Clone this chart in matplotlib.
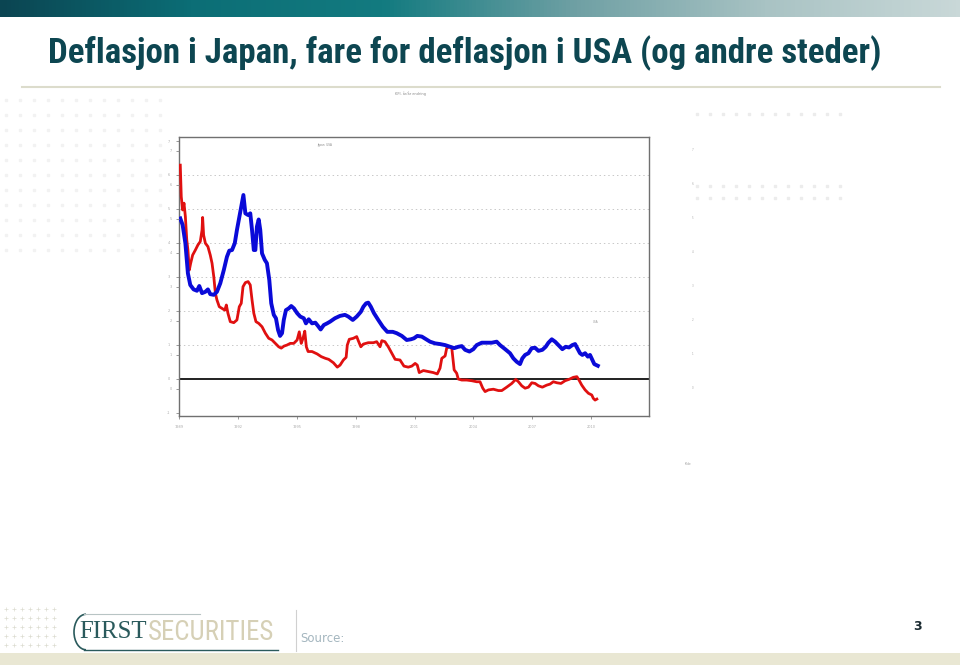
import numpy as np
import matplotlib
matplotlib.use("Agg")
import matplotlib.pyplot as plt
from matplotlib.colors import LinearSegmentedColormap
from matplotlib.patches import Rectangle, Arc
from matplotlib.lines import Line2D

TITLE = "Deflasjon i Japan, fare for deflasjon i USA (og andre steder)"
START_YEAR = 1989

# years since START_YEAR, and values (pct)
blue_t = [0.05, 0.17, 0.31, 0.44, 0.56, 0.73, 0.90, 1.02, 1.16, 1.33, 1.46, 1.58, 1.76, 1.92,
          2.09, 2.27, 2.43, 2.55, 2.69, 2.83, 2.94, 3.08, 3.16, 3.27, 3.37, 3.51, 3.62, 3.71,
          3.80, 3.88, 3.96, 4.05, 4.13, 4.22, 4.36, 4.47, 4.59, 4.69, 4.82, 4.93, 5.04, 5.14,
          5.24, 5.33, 5.44, 5.58, 5.71, 5.85, 6.01, 6.17, 6.35, 6.46, 6.60, 6.77, 6.94, 7.08,
          7.21, 7.37, 7.54, 7.69, 7.94, 8.20, 8.45, 8.62, 8.85, 9.05, 9.26, 9.39, 9.53, 9.64,
          9.77, 9.93, 10.15, 10.38, 10.61, 10.89, 11.09, 11.35, 11.60, 11.81, 11.97, 12.14,
          12.37, 12.59, 12.79, 13.05, 13.30, 13.56, 13.81, 14.02, 14.23, 14.41, 14.58, 14.80,
          15.00, 15.17, 15.43, 15.60, 15.94, 16.19, 16.36, 16.62, 16.87, 17.04, 17.21, 17.38,
          17.50, 17.64, 17.81, 17.98, 18.15, 18.32, 18.52, 18.69, 18.83, 19.00, 19.17, 19.34,
          19.54, 19.71, 19.88, 20.05, 20.19, 20.33, 20.44, 20.56, 20.70, 20.84, 20.95, 21.07,
          21.17, 21.35]
blue_values = [4.72, 4.53, 3.99, 3.10, 2.76, 2.63, 2.59, 2.73, 2.52, 2.56, 2.63, 2.49, 2.47, 2.56,
               2.81, 3.20, 3.59, 3.77, 3.79, 3.99, 4.38, 4.82, 5.07, 5.41, 4.87, 4.82, 4.87, 4.38,
               3.79, 3.79, 4.48, 4.69, 4.38, 3.69, 3.50, 3.40, 2.91, 2.22, 1.88, 1.78, 1.43, 1.26,
               1.34, 1.73, 2.02, 2.07, 2.14, 2.07, 1.93, 1.83, 1.78, 1.63, 1.75, 1.63, 1.65, 1.55,
               1.45, 1.58, 1.63, 1.68, 1.78, 1.85, 1.88, 1.83, 1.73, 1.83, 1.97, 2.12, 2.22, 2.24,
               2.12, 1.93, 1.73, 1.53, 1.38, 1.38, 1.34, 1.26, 1.14, 1.16, 1.19, 1.26,
               1.24, 1.16, 1.09, 1.04, 1.02, 0.99, 0.94, 0.90, 0.94, 0.96, 0.85, 0.80,
               0.87, 0.99, 1.06, 1.06, 1.06, 1.09, 0.99, 0.87, 0.75, 0.60, 0.50, 0.43,
               0.60, 0.70, 0.75, 0.90, 0.91, 0.82, 0.85, 0.94, 1.06, 1.16, 1.09, 0.99,
               0.87, 0.94, 0.92, 0.99, 1.02, 0.87, 0.75, 0.70, 0.75, 0.65, 0.70, 0.55,
               0.43, 0.38]

red_t = [0.05, 0.10, 0.17, 0.24, 0.31, 0.38, 0.44, 0.51, 0.58, 0.68, 0.82, 0.95, 1.07, 1.16,
         1.19, 1.24, 1.33, 1.46, 1.58, 1.67, 1.76, 1.84, 1.92, 2.04, 2.18, 2.32, 2.40, 2.48,
         2.60, 2.78, 2.94, 3.06, 3.16, 3.25, 3.37, 3.51, 3.62, 3.71, 3.80, 3.91, 4.05, 4.22,
         4.39, 4.56, 4.73, 4.90, 5.07, 5.20, 5.34, 5.49, 5.66, 5.84, 6.01, 6.12, 6.22, 6.31,
         6.40, 6.48, 6.57, 6.77, 7.03, 7.24, 7.45, 7.62, 7.86, 8.06, 8.20, 8.37, 8.51, 8.57,
         8.67, 8.88, 9.05, 9.13, 9.26, 9.39, 9.64, 9.90, 10.07, 10.24, 10.33, 10.49, 10.66,
         10.84, 11.01, 11.26, 11.46, 11.68, 11.86, 12.03, 12.14, 12.24, 12.45, 12.70, 12.96,
         13.16, 13.30, 13.39, 13.56, 13.64, 13.78, 13.90, 14.02, 14.15, 14.23, 14.41, 14.66,
         14.92, 15.17, 15.34, 15.48, 15.60, 15.77, 16.02, 16.28, 16.45, 16.70, 16.96, 17.16,
         17.30, 17.47, 17.64, 17.81, 17.98, 18.15, 18.32, 18.52, 18.74, 18.91, 19.08, 19.26,
         19.47, 19.68, 19.88, 20.10, 20.28, 20.39, 20.53, 20.70, 20.87, 21.04, 21.12, 21.21,
         21.30]
red_values = [6.29, 5.36, 4.97, 5.17, 4.77, 4.09, 3.79, 3.20, 3.40, 3.64, 3.79, 3.94, 4.04, 4.38,
              4.75, 4.23, 3.99, 3.89, 3.64, 3.40, 3.00, 2.52, 2.32, 2.12, 2.07, 2.02, 2.17, 1.93,
              1.68, 1.65, 1.73, 2.12, 2.22, 2.71, 2.83, 2.86, 2.76, 2.32, 1.93, 1.68, 1.63, 1.53,
              1.34, 1.19, 1.14, 1.04, 0.94, 0.90, 0.96, 0.99, 1.04, 1.04, 1.14, 1.38, 1.04, 1.19,
              1.40, 0.94, 0.80, 0.80, 0.73, 0.65, 0.60, 0.57, 0.47, 0.34, 0.40, 0.55, 0.63, 0.99,
              1.16, 1.19, 1.24, 1.12, 0.94, 1.02, 1.06, 1.06, 1.09, 0.94, 1.12, 1.09, 0.94,
              0.75, 0.57, 0.55, 0.37, 0.34, 0.37, 0.45, 0.40, 0.18, 0.24, 0.21, 0.18,
              0.14, 0.31, 0.60, 0.67, 0.90, 0.94, 0.90, 0.26, 0.16, -0.01, -0.04, -0.04,
              -0.06, -0.09, -0.09, -0.28, -0.38, -0.33, -0.31, -0.35, -0.35, -0.25, -0.14, -0.02,
              -0.09, -0.21, -0.28, -0.25, -0.12, -0.14, -0.21, -0.25, -0.19, -0.16, -0.09, -0.12,
              -0.14, -0.06, -0.02, 0.04, 0.06, -0.04, -0.19, -0.33, -0.43, -0.48, -0.58, -0.63,
              -0.60]

x_ticks = [1989, 1992, 1995, 1998, 2001, 2004, 2007, 2010]
right_ticks = [-1, 0, 1, 2, 3, 4, 5, 6, 7]
left_ticks = [0, 1, 2, 3, 4, 5, 6, 7]

W, H = 960, 665
NARROW = ["Roboto Condensed", "DejaVu Sans Condensed", "Liberation Sans", "DejaVu Sans"]


def fy(py):
    return 1 - py / H


def fit_width(txt, width_px):
    # shrink/grow font so the text spans the wanted width
    r = fig.canvas.get_renderer()
    w = txt.get_window_extent(renderer=r).width
    txt.set_fontsize(txt.get_fontsize() * width_px / w)


fig = plt.figure(figsize=(9.6, 6.65), dpi=100)
fig.patch.set_facecolor("white")

# top gradient bar
bar = fig.add_axes([0, fy(17), 1, 17 / H])
bar.axis("off")
cmap = LinearSegmentedColormap.from_list(
    "bar", ["#0b4552", "#0c6e76", "#137b80", "#6fa0a4", "#a9c3c4", "#c9d8d8"])
bar.imshow(np.linspace(0, 1, 256)[None, :], aspect="auto", cmap=cmap, extent=[0, 1, 0, 1])

# title + separator line
title = fig.text(48 / W, fy(53), TITLE, fontsize=22, fontweight="bold", color="#0d4651",
                 family=NARROW, va="center", ha="left")
fit_width(title, 834)
fig.add_artist(Line2D([22 / W, 940 / W], [fy(87), fy(87)], color="#dcdccc", lw=1.5))

# faint decorative dots
for yy in range(100, 256, 15):
    for xx in range(6, 170, 14):
        fig.add_artist(Line2D([xx / W], [fy(yy)], marker="s", ms=1.6, color="#f2f2f2", lw=0))
for yy in [114, 186, 198]:
    for xx in range(697, 850, 13):
        fig.add_artist(Line2D([xx / W], [fy(yy)], marker="s", ms=1.6, color="#ececec", lw=0))

# chart
ax = fig.add_axes([179.3 / W, fy(415.7), (649 - 179.3) / W, (415.7 - 137.3) / H])
blue_x = START_YEAR + np.array(blue_t)
red_x = START_YEAR + np.array(red_t)
ax.plot(red_x, red_values, color="#e01010", lw=2.0, zorder=3)
ax.plot(blue_x, blue_values, color="#0a0ad8", lw=2.8, zorder=4)
ax.axhline(0, color="#202020", lw=1.4, zorder=2)
ax.set_xlim(START_YEAR, START_YEAR + 23.96)
ax.set_ylim(-1.09, 7.11)
for v in range(1, 7):
    ax.axhline(v, color="#c8c8c8", lw=0.7, ls=(0, (1.5, 3)), zorder=1)
ax.set_xticks(x_ticks)
ax.set_xticklabels([str(t) for t in x_ticks], fontsize=2.5, color="#aaaaaa")
ax.yaxis.tick_right()
ax.set_yticks(right_ticks)
ax.set_yticklabels([str(t) for t in right_ticks], fontsize=2.5, color="#aaaaaa")
ax.tick_params(length=2.5, width=0.6, colors="#888888", labelcolor="#aaaaaa", pad=4)
for s in ax.spines.values():
    s.set_color("#707070")
    s.set_linewidth(1.0)

axl = ax.twinx()
axl.yaxis.tick_left()
axl.set_ylim(-0.79, 7.40)
axl.set_yticks(left_ticks)
axl.set_yticklabels([str(t) for t in left_ticks], fontsize=2.5, color="#aaaaaa")
axl.tick_params(length=2.5, width=0.6, colors="#888888", labelcolor="#aaaaaa", pad=3)
axl.spines[:].set_visible(False)

# tiny chart texts
fig.text(410 / W, fy(95), "KPI, år/år endring", fontsize=2.5, color="#888888", ha="center")
fig.text(325 / W, fy(146), "Japan  USA", fontsize=2, color="#888888", ha="center")
fig.text(596 / W, fy(323), "USA", fontsize=2, color="#999999", ha="center")
fig.text(688 / W, fy(465), "Kilde", fontsize=2, color="#999999", ha="center")
for i, v in enumerate(left_ticks):
    fig.text(693 / W, fy(389 - 34 * i), str(v), fontsize=2, color="#aaaaaa", ha="center")

# footer
fig.add_artist(Rectangle((0, 0), 1, 12 / H, transform=fig.transFigure,
                         facecolor="#e9e7d3", edgecolor="none"))
for yy in range(609, 652, 9):
    for xx in range(6, 60, 8):
        fig.add_artist(Line2D([xx / W], [fy(yy)], marker="+", ms=2.5, mew=0.5,
                              color="#dcdcd0", lw=0))
first = fig.text(79 / W, fy(632), "FIRST", fontsize=20, color="#2a5a5c",
                 family=["Liberation Serif", "DejaVu Serif"], va="center", ha="left")
fit_width(first, 68)
secur = fig.text(148 / W, fy(632), "SECURITIES", fontsize=19, color="#d6d0b6",
                 family=NARROW, va="center", ha="left")
fit_width(secur, 127)
fig.add_artist(Line2D([84 / W, 278 / W], [fy(649.5), fy(649.5)], color="#2a5a5c", lw=1.0))
fig.add_artist(Line2D([84 / W, 200 / W], [fy(614), fy(614)], color="#b8c4c4", lw=0.8))
fig.add_artist(Arc((86 / W, fy(632)), 24 / W, 35.5 / H, theta1=90, theta2=270,
                   transform=fig.transFigure, color="#2a5a5c", lw=1.2))
fig.add_artist(Line2D([296 / W, 296 / W], [fy(610), fy(651)], color="#d0d0d0", lw=0.8))
fig.text(300 / W, fy(638), "Source:", fontsize=8.5, color="#a4b6bf", va="center", ha="left")
fig.text(917 / W, fy(627), "3", fontsize=9, fontweight="bold", color="#1a2a30",
         va="center", ha="center")

fig.savefig("out.png", dpi=100)
